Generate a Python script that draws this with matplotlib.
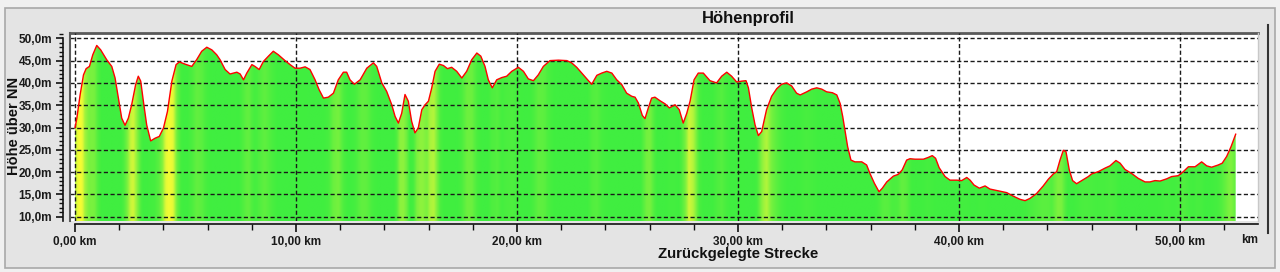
import numpy as np
import matplotlib
matplotlib.use("Agg")
import matplotlib.pyplot as plt
from matplotlib.patches import Rectangle
from matplotlib.colors import LinearSegmentedColormap
from matplotlib.ticker import MultipleLocator, FuncFormatter

# Distanz (km) und Höhe (m)
dist_km = [0.0, 0.08, 0.23, 0.38, 0.5, 0.65, 0.8, 0.98, 1.16, 1.43, 1.66, 1.81, 1.96, 2.11, 2.26,
           2.41, 2.56, 2.74, 2.86, 2.97, 3.09, 3.24, 3.42, 3.62, 3.81, 4.0, 4.18, 4.38, 4.57, 4.72,
           4.98, 5.28, 5.5, 5.73, 5.96, 6.19, 6.41, 6.56, 6.79, 7.01, 7.32, 7.47, 7.62, 7.77, 8.0,
           8.14, 8.33, 8.52, 8.75, 8.97, 9.2, 9.5, 9.73, 9.95, 10.18, 10.41, 10.63, 10.86, 11.04,
           11.24, 11.46, 11.69, 11.91, 12.14, 12.29, 12.44, 12.64, 12.9, 13.2, 13.5, 13.65, 13.88,
           14.1, 14.33, 14.48, 14.63, 14.78, 14.93, 15.08, 15.23, 15.38, 15.53, 15.69, 15.84, 15.99,
           16.14, 16.29, 16.48, 16.67, 16.85, 17.04, 17.27, 17.5, 17.72, 17.95, 18.18, 18.36, 18.55,
           18.7, 18.88, 19.08, 19.31, 19.53, 19.76, 20.06, 20.29, 20.51, 20.74, 20.96, 21.19, 21.49,
           21.87, 22.25, 22.47, 22.7, 23.0, 23.23, 23.38, 23.61, 23.83, 24.06, 24.29, 24.51, 24.74,
           24.96, 25.19, 25.34, 25.49, 25.67, 25.79, 25.94, 26.09, 26.24, 26.47, 26.7, 26.89, 27.15,
           27.34, 27.52, 27.68, 27.83, 28.01, 28.2, 28.43, 28.73, 29.03, 29.26, 29.49, 29.71, 29.94,
           30.17, 30.36, 30.47, 30.62, 30.77, 30.92, 31.07, 31.29, 31.52, 31.75, 31.97, 32.2, 32.43,
           32.65, 32.81, 33.11, 33.33, 33.56, 33.79, 34.01, 34.27, 34.47, 34.62, 34.74, 34.84, 34.96,
           35.11, 35.29, 35.6, 35.82, 35.97, 36.17, 36.38, 36.53, 36.73, 37.03, 37.25, 37.43, 37.63,
           37.78, 38.01, 38.39, 38.61, 38.79, 38.94, 39.1, 39.37, 39.59, 39.9, 40.12, 40.35, 40.5,
           40.68, 40.92, 41.18, 41.4, 41.78, 42.16, 42.46, 42.76, 42.99, 43.21, 43.51, 43.81, 44.04,
           44.27, 44.42, 44.57, 44.72, 44.84, 44.99, 45.14, 45.32, 45.55, 45.85, 46.0, 46.3, 46.61,
           46.83, 47.1, 47.29, 47.51, 47.81, 48.11, 48.42, 48.64, 48.87, 49.1, 49.4, 49.62, 49.92,
           50.15, 50.38, 50.68, 50.98, 51.21, 51.43, 51.73, 51.91, 52.11, 52.31, 52.52]
hoehe_m = [30.0, 32.1, 37.4, 41.8, 43.2, 43.7, 46.3, 48.4, 47.4, 45.2, 43.7, 41.1, 36.6, 32.1, 30.5,
           32.1, 35.1, 39.6, 41.5, 40.4, 35.9, 30.6, 27.0, 27.6, 28.0, 29.9, 33.6, 40.4, 44.1, 44.7,
           44.2, 43.7, 45.2, 47.1, 48.0, 47.4, 46.3, 45.2, 43.0, 42.0, 42.4, 42.0, 40.7, 42.2, 44.1,
           43.7, 43.0, 44.8, 46.0, 47.1, 46.3, 45.0, 44.1, 43.3, 43.3, 43.6, 43.0, 40.7, 38.5,
           36.6, 36.8, 37.7, 40.7, 42.4, 42.4, 40.7, 39.7, 40.7, 43.3, 44.5, 43.7, 40.0,
           38.1, 35.1, 32.5, 31.0, 33.2, 37.4, 35.9, 31.4, 28.8, 29.9, 34.0, 35.1, 35.9,
           38.9, 42.6, 44.2, 43.9, 43.2, 43.5, 42.6, 41.1, 42.6, 45.2, 46.7, 46.0, 43.7,
           40.7, 38.9, 40.7, 41.2, 41.5, 42.6, 43.5, 42.6, 40.9, 40.5, 41.8, 43.7, 45.0,
           45.1, 45.0, 44.5, 43.5, 41.8, 40.5, 39.7, 41.7, 42.2, 42.6, 42.2, 40.7, 39.6,
           37.7, 37.0, 36.8, 35.5, 32.7, 32.0, 34.4, 36.6, 36.8, 36.0, 35.3, 34.4, 35.1,
           34.0, 31.0, 33.2, 35.9, 40.7, 42.2, 42.2, 40.5, 40.0, 41.5, 42.4, 41.5, 40.2,
           40.4, 40.5, 38.9, 34.4, 30.6, 28.2, 29.1, 34.0, 37.0, 38.7, 39.7, 40.0, 39.3,
           37.7, 37.3, 38.0, 38.6, 38.9, 38.6, 38.0, 37.8, 37.3, 35.4, 32.4, 29.4, 25.7,
           22.7, 22.3, 22.3, 21.6, 19.7, 17.5, 15.6, 16.4, 17.8, 19.1, 19.5, 20.5, 22.7,
           23.0, 22.9, 22.9, 23.3, 23.7, 23.1, 21.0, 19.0, 18.2, 18.2, 18.1, 18.8, 18.2,
           17.1, 16.4, 16.9, 16.2, 15.8, 15.4, 14.6, 13.9, 13.6, 14.1, 15.2, 16.9, 18.4,
           19.6, 20.1, 22.7, 24.9, 24.6, 20.5, 18.1, 17.4, 18.1, 19.0, 19.6, 20.1, 20.9,
           21.4, 22.6, 22.0, 20.6, 19.7, 18.6, 17.8, 17.8, 18.1, 18.0, 18.5, 19.0, 19.2,
           20.1, 21.2, 21.2, 22.3, 21.4, 21.1, 21.6, 22.0, 23.5, 25.7, 28.5]

y_ticks = [10, 15, 20, 25, 30, 35, 40, 45, 50]
x_ticks = [0, 10, 20, 30, 40, 50]

plt.rcParams["font.family"] = "Liberation Sans"
plt.rcParams["font.weight"] = "bold"

x = np.array(dist_km)
h = np.array(hoehe_m)
ymin, ymax = 9.04, 51.19
xmin, xmax = -0.23, 53.53

fig = plt.figure(figsize=(12.8, 2.72), dpi=100, facecolor="#f0f0f0")
fig.patches.append(Rectangle((5 / 1280, 4 / 272), 1270 / 1280, 260 / 272, transform=fig.transFigure,
                             facecolor="#e4e4e4", edgecolor="#a8a8a8", lw=1.2, zorder=-5))
fig.add_artist(plt.Line2D([1268 / 1280, 1268 / 1280], [1 - 233 / 272, 1 - 25 / 272],
                          color="#333333", lw=1.5))

ax = fig.add_axes([70 / 1280, 1 - 221 / 272, 1188 / 1280, 188 / 272])
ax.set_facecolor("white")
ax.set_xlim(xmin, xmax)
ax.set_ylim(ymin, ymax)

# Füllung: Farbe nach Steigung (nur bergauf gelb)
xs = np.linspace(x[0], x[-1], 2400)
hs = np.interp(xs, x, h)
steig = np.clip(np.gradient(hs, xs), 0, None)
kern = np.ones(21) / 21
steig = np.convolve(steig, kern, mode="same")
werte = np.clip(steig / 30.0, 0, 1) ** 1.3
cmap = LinearSegmentedColormap.from_list("gy", ["#40ee40", "#88f23e", "#e0f838", "#ffff30"])
poly = ax.fill_between(xs, hs, ymin, color="none", lw=0)
img = ax.imshow(werte[np.newaxis, :], extent=[x[0], x[-1], ymin, ymax], aspect="auto",
                cmap=cmap, vmin=0, vmax=1, origin="lower", interpolation="bilinear", zorder=1)
img.set_clip_path(poly.get_paths()[0], transform=ax.transData)

ax.plot(x, h, color="#ff0000", lw=1.0, zorder=4, solid_joinstyle="round")

# Gitter
for yt in y_ticks:
    ax.axhline(yt, color="#1a1a1a", lw=1.0, ls=(0, (3, 1.8)), zorder=3)
for xt in x_ticks:
    ax.axvline(xt, color="#1a1a1a", lw=1.0, ls=(0, (3, 1.8)), zorder=3)

# Rahmen
ax.spines["right"].set_visible(False)
ax.spines["top"].set_color("#5a5a5a")
ax.spines["top"].set_linewidth(2)
ax.plot([0, 0], [0, 1], transform=ax.transAxes, color="#5a5a5a", lw=1.5, clip_on=False, zorder=5)
ax.plot([1, 1], [0, 1], transform=ax.transAxes, color="#c8c8c8", lw=1, clip_on=False, zorder=5)

ax.spines["left"].set_position(("outward", 5))
ax.spines["left"].set_bounds(ymin, 50)
ax.spines["bottom"].set_position(("outward", 2.5))
ax.spines["bottom"].set_bounds(0, xmax)
for s in ("left", "bottom"):
    ax.spines[s].set_color("#111111")
    ax.spines[s].set_linewidth(1.2)

ax.set_yticks(y_ticks)
ax.yaxis.set_minor_locator(MultipleLocator(1))
ax.yaxis.set_major_formatter(FuncFormatter(lambda v, p: f"{v:.1f}m".replace(".", ",")))
ax.set_xticks(x_ticks)
ax.xaxis.set_minor_locator(MultipleLocator(2))
ax.xaxis.set_major_formatter(FuncFormatter(lambda v, p: f"{v:.2f} km".replace(".", ",")))
ax.tick_params(axis="y", which="major", length=5, width=1.2, pad=3, color="#111111",
               labelsize=8.5, labelcolor="#1a1a1a")
ax.tick_params(axis="y", which="minor", length=3, width=1, color="#111111")
ax.tick_params(axis="x", which="major", length=6, width=1.2, pad=2.5, color="#111111",
               labelsize=8.5, labelcolor="#1a1a1a")
ax.tick_params(axis="x", which="minor", length=4, width=1, color="#111111")

fig.text(748 / 1280, 1 - 19 / 272, "Höhenprofil", ha="center", va="center",
         fontweight="bold", fontsize=12, color="#111111")
fig.text(738.5 / 1280, 1 - 254 / 272, "Zurückgelegte Strecke", ha="center", va="center",
         fontweight="bold", fontsize=10.8, color="#111111")
fig.text(14 / 1280, 1 - 126 / 272, "Höhe über NN", ha="center", va="center", rotation=90,
         fontweight="bold", fontsize=10.5, color="#111111")
fig.text(1250 / 1280, 1 - 240 / 272, "km", ha="center", va="center",
         fontweight="bold", fontsize=8.5, color="#1a1a1a")

fig.savefig("out.png", dpi=100, facecolor=fig.get_facecolor())
